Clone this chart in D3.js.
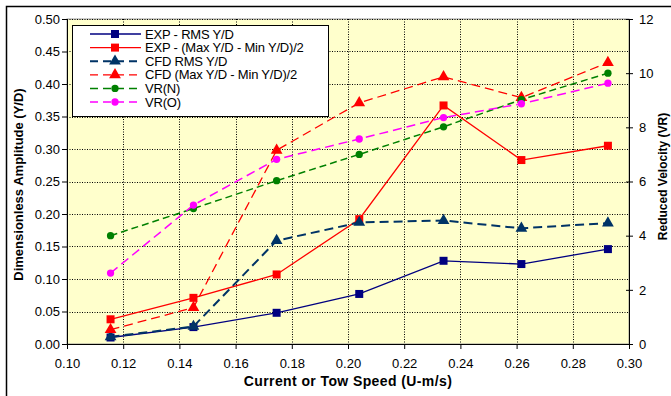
<!DOCTYPE html>
<html><head><meta charset="utf-8">
<script src="https://cdn.jsdelivr.net/npm/d3@7"></script>
<style>body{margin:0;background:#fff}svg{display:block}text{font-family:"Liberation Sans",Arial,sans-serif}</style>
</head><body><svg id="c" width="671" height="396"></svg>
<script>
const speeds = [0.1155, 0.145, 0.1746, 0.204, 0.234, 0.2617, 0.2925];
const expRms = [0.010, 0.026, 0.048, 0.077, 0.128, 0.123, 0.146];
const expMaxMin = [0.038, 0.071, 0.107, 0.192, 0.367, 0.283, 0.305];
const cfdRms = [0.011, 0.027, 0.159, 0.187, 0.190, 0.178, 0.186];
const cfdMaxMin = [0.022, 0.056, 0.298, 0.371, 0.411, 0.379, 0.433];
const vrN = [4.0, 5.0, 6.03, 7.0, 8.02, 9.02, 10.0];
const vrO = [2.62, 5.13, 6.82, 7.57, 8.36, 8.87, 9.63];
const xTicks = [0.10,0.12,0.14,0.16,0.18,0.20,0.22,0.24,0.26,0.28,0.30];
const yTicks = [0,0.05,0.10,0.15,0.20,0.25,0.30,0.35,0.40,0.45,0.50];
const y2Ticks = [0,2,4,6,8,10,12];
const seriesNames = ["EXP - RMS Y/D","EXP - (Max Y/D - Min Y/D)/2","CFD RMS Y/D","CFD (Max Y/D - Min Y/D)/2","VR(N)","VR(O)"];

const svg = d3.select("#c");
const L=67,R=629,T=19,B=344;
const x = d3.scaleLinear().domain([0.10,0.30]).range([L,R]);
const y = d3.scaleLinear().domain([0,0.5]).range([B,T]);
const y2 = d3.scaleLinear().domain([0,12]).range([B,T]);

// outer frame
svg.append("path").attr("d","M6.5,400V6.5H680").attr("fill","none").attr("stroke","#000").attr("stroke-width",1.5);

svg.append("rect").attr("x",L).attr("y",T).attr("width",R-L).attr("height",B-T).attr("fill","#FFFFCC").attr("stroke","#999").attr("stroke-width",1);

// grid
const g = svg.append("g");
g.selectAll(".hg").data(yTicks.slice(1)).join("line")
 .attr("x1",L).attr("x2",R).attr("y1",d=>Math.round(y(d))+0.5).attr("y2",d=>Math.round(y(d))+0.5)
 .attr("stroke","#000").attr("stroke-dasharray","1,1.5").attr("stroke-width",1);
g.selectAll(".vg").data(xTicks.slice(1,-1)).join("line")
 .attr("y1",T).attr("y2",B).attr("x1",d=>Math.round(x(d))+0.5).attr("x2",d=>Math.round(x(d))+0.5)
 .attr("stroke","#000").attr("stroke-dasharray","1,1.5").attr("stroke-width",1);

// axes
const ax = svg.append("g").attr("transform",`translate(0,${B})`)
 .call(d3.axisBottom(x).tickValues(xTicks).tickFormat(d3.format(".2f")).tickSize(5).tickSizeOuter(0));
const ay = svg.append("g").attr("transform",`translate(${L},0)`)
 .call(d3.axisLeft(y).tickValues(yTicks).tickFormat(d3.format(".2f")).tickSize(5).tickSizeOuter(0));
const ay2 = svg.append("g").attr("transform",`translate(${R},0)`)
 .call(d3.axisRight(y2).tickValues(y2Ticks).tickFormat(d3.format("d")).tickSize(4).tickSizeOuter(0));
ay2.selectAll(".tick line").attr("x1",-3);
[ax,ay,ay2].forEach(a=>{a.selectAll("text").attr("font-size",13).attr("fill","#000").attr("font-family","Liberation Sans, Arial");
 a.select(".domain").attr("stroke","#000"); a.selectAll(".tick line").attr("stroke","#000");});
ax.selectAll("text").attr("dy","0.71em").attr("y",15);
ay.selectAll("text").attr("x",-7);
ay2.selectAll("text").attr("x",10);

// titles
svg.append("text").attr("x",(L+R)/2).attr("y",386).attr("text-anchor","middle").attr("font-weight","bold")
 .attr("font-size",14).attr("letter-spacing",0.4).text("Current or Tow Speed (U-m/s)");
svg.append("text").attr("transform",`translate(23,${(T+B)/2+3}) rotate(-90)`).attr("text-anchor","middle").attr("font-weight","bold")
 .attr("font-size",13).text("Dimensionless Amplitude (Y/D)");
svg.append("text").attr("transform",`translate(667,${(T+B)/2-5}) rotate(-90)`).attr("text-anchor","middle").attr("font-weight","bold")
 .attr("font-size",12).text("Reduced Velocity (VR)");

const sq = d3.symbol().type(d3.symbolSquare).size(64);
const tri = d3.symbol().type(d3.symbolTriangle).size(60);
const cir = d3.symbol().type(d3.symbolCircle).size(42);
const series = [
 {name:seriesNames[0], v:expRms, ys:y, color:"#000080", dash:null, w:1.3, sym:sq},
 {name:seriesNames[1], v:expMaxMin, ys:y, color:"#FF0000", dash:null, w:1.3, sym:sq},
 {name:seriesNames[2], v:cfdRms, ys:y, color:"#003366", dash:"9,5", w:2, sym:tri},
 {name:seriesNames[3], v:cfdMaxMin, ys:y, color:"#FF0000", dash:"9,5", w:1.3, sym:tri},
 {name:seriesNames[4], v:vrN, ys:y2, color:"#008000", dash:"7,4", w:1.5, sym:cir},
 {name:seriesNames[5], v:vrO, ys:y2, color:"#FF00FF", dash:"9,5", w:1.5, sym:cir},
];
const line = d3.line();
series.forEach(s=>{
 const pts = speeds.map((sp,i)=>[x(sp), s.ys(s.v[i])]);
 svg.append("path").attr("d",line(pts)).attr("fill","none").attr("stroke",s.color).attr("stroke-width",s.w).attr("stroke-dasharray",s.dash);
 svg.append("g").selectAll("path").data(pts).join("path").attr("d",s.sym).attr("transform",d=>`translate(${d[0]},${d[1]})`).attr("fill",s.color);
});

// legend
const lg = svg.append("g");
lg.append("rect").attr("x",72.5).attr("y",25.5).attr("width",256).attr("height",91).attr("fill","#fff").attr("stroke","#000");
series.forEach((s,i)=>{
 const yy = 34 + i*13.6;
 lg.append("line").attr("x1",90).attr("x2",141).attr("y1",yy).attr("y2",yy).attr("stroke",s.color).attr("stroke-width",s.w).attr("stroke-dasharray",s.dash?"8,5":null);
 lg.append("path").attr("d",s.sym).attr("transform",`translate(115,${yy})`).attr("fill",s.color);
 lg.append("text").attr("x",145).attr("y",yy+4.5).attr("font-size",13).attr("letter-spacing",-0.2).text(s.name);
});
</script></body></html>
